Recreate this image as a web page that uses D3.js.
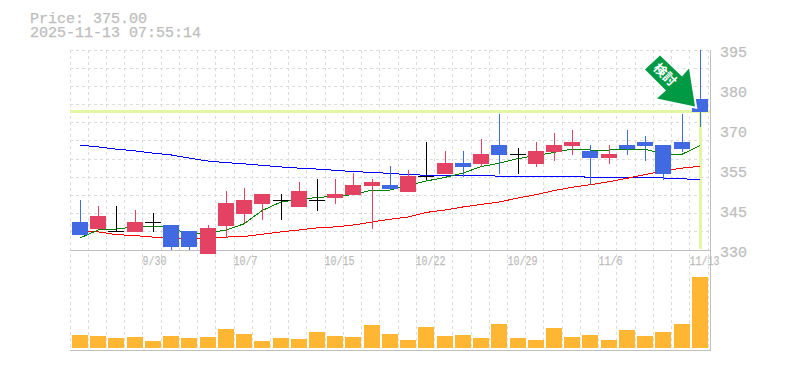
<!DOCTYPE html>
<html>
<head>
<meta charset="utf-8">
<script src="https://cdn.jsdelivr.net/npm/d3@7"></script>
<style>
  html, body { margin: 0; padding: 0; background: #fff; }
  svg { display: block; }
  text { font-family: "Liberation Mono", monospace; fill: #bdbdbd; stroke: #bdbdbd; stroke-width: 0.25; }
</style>
</head>
<body>
<svg id="chart" width="785" height="370"></svg>
<script>
const priceText = "Price: 375.00";
const stampText = "2025-11-13 07:55:14";
const lastPrice = 375;

const dates = ["9/24","9/25","9/26","9/29","9/30","10/1","10/2","10/3","10/6","10/7","10/8","10/9","10/10","10/14","10/15","10/16","10/17","10/20","10/21","10/22","10/23","10/24","10/27","10/28","10/29","10/30","10/31","11/4","11/5","11/6","11/7","11/10","11/11","11/12","11/13"];
const dateLabels = ["9/30","10/7","10/15","10/22","10/29","11/6","11/13"];

const yTickValues = [395, 382, 369, 356, 343, 330];
const yTickLabels = ["395", "380", "370", "355", "345", "330"];

const opens  = [339.1,336.8,336.2,335.9,339.1,338.1,336.2,328.7,337.8,341.7,345.0,346.2,344.0,346.2,346.9,347.9,350.8,351.1,348.9,354.0,354.7,358.3,358.0,364.1,361.2,358.0,361.9,363.8,362.2,359.9,364.1,365.1,364.1,365.1,379.0];
const closes = [334.9,341.1,336.2,339.1,339.1,331.0,331.0,337.2,345.3,346.2,348.2,346.2,349.2,346.2,348.2,351.1,352.1,349.8,354.0,354.0,358.3,357.0,361.2,360.9,361.2,362.2,364.1,365.1,359.9,361.2,362.8,363.8,354.7,362.8,375.0];
const highs  = [346.2,344.3,344.3,343.0,342.0,338.1,336.2,338.1,349.2,350.1,348.2,348.2,352.1,353.1,353.1,355.0,353.1,357.3,356.0,365.1,362.2,362.2,366.0,374.2,363.1,365.1,368.0,369.0,364.1,364.1,369.0,367.0,364.1,374.2,395.0];
const lows   = [334.9,336.8,335.9,335.9,335.9,330.0,330.0,328.7,333.9,338.8,339.8,339.8,344.0,342.7,345.0,347.9,336.8,349.8,348.9,352.7,354.7,353.7,357.0,354.7,354.7,357.0,358.9,360.9,351.1,358.0,360.9,358.9,352.7,361.9,370.0];
const volumes = [13,12,10,11,7,12,10,11,19,14,7,10,9,16,12,11,23,14,8,21,12,13,10,24,10,8,20,11,13,8,18,12,16,24,71];

const lineBlue  = [364.1,363.5,362.8,362.2,361.5,360.9,359.9,358.9,358.4,358.0,357.5,357.0,356.6,356.3,355.9,355.5,355.2,354.9,354.5,354.3,354.2,354.2,354.2,354.0,354.0,354.0,354.0,354.0,353.6,353.6,353.6,353.6,353.4,353.1,353.0];
const lineGreen = [333.9,336.5,336.8,337.5,337.8,337.2,335.2,335.5,336.5,338.5,342.8,345.6,346.4,347.1,347.4,348.0,349.5,349.5,351.0,352.4,353.6,355.0,357.1,358.2,359.7,360.7,361.7,362.8,362.5,362.5,362.6,362.8,361.1,361.1,364.0];
const lineRed   = [336.2,335.9,335.0,334.7,334.2,333.9,333.6,333.7,334.2,334.4,335.1,335.9,336.5,337.2,337.5,338.1,339.1,340.0,340.7,342.2,343.0,344.0,344.8,345.6,346.9,348.0,349.3,350.4,351.2,352.2,353.3,354.5,355.7,356.6,357.2];

const svg = d3.select("#chart");
const plotLeft = 71, plotRight = 709, plotTop = 50, priceBottom = 250, volBottom = 348, panelBottom = 350;
const gridColor = "#dcdcdc", axisColor = "#c0c0c0";

const x = d3.scaleBand().domain(dates).range([plotLeft, plotRight]);
const cx = d => Math.round(x(d) + x.bandwidth() / 2 - 0.1);
const y = d3.scaleLinear().domain([330, 395]).range([priceBottom, plotTop]);
const yVol = d3.scaleLinear().domain([0, d3.max(volumes)]).range([volBottom, 277]);

const candles = dates.map((d, i) => ({ d, open: opens[i], close: closes[i], high: highs[i], low: lows[i], vol: volumes[i] }));

// grid
const gridG = svg.append("g").attr("shape-rendering", "crispEdges")
  .attr("stroke", gridColor).attr("stroke-dasharray", "3 3");
gridG.selectAll("line.v").data(d3.range(dates.length + 1)).join("line")
  .attr("class", "v")
  .attr("x1", i => plotLeft + i * x.step() - 1).attr("x2", i => plotLeft + i * x.step() - 1)
  .attr("y1", plotTop).attr("y2", panelBottom);
gridG.selectAll("line.h").data(d3.range(11)).join("line")
  .attr("class", "h")
  .attr("x1", plotLeft - 1).attr("x2", plotRight)
  .attr("y1", i => y(395 - i * 65 / 11)).attr("y2", i => y(395 - i * 65 / 11));

// volume
svg.append("g").attr("shape-rendering", "crispEdges").selectAll("rect").data(candles).join("rect")
  .attr("x", d => cx(d.d) - 8).attr("width", 16)
  .attr("y", d => yVol(d.vol)).attr("height", d => volBottom - yVol(d.vol))
  .attr("fill", "#ffb733");

// axis frame
const frameG = svg.append("g").attr("shape-rendering", "crispEdges").attr("stroke", axisColor);
frameG.append("line").attr("x1", plotLeft - 1).attr("x2", plotRight + 2).attr("y1", priceBottom).attr("y2", priceBottom);
frameG.append("line").attr("x1", plotLeft - 1).attr("x2", plotRight + 2).attr("y1", panelBottom).attr("y2", panelBottom);
frameG.append("line").attr("x1", plotRight + 1).attr("x2", plotRight + 1).attr("y1", plotTop).attr("y2", panelBottom + 1);

// last price marker
const marker = svg.append("g").attr("shape-rendering", "crispEdges").attr("stroke", "#e3f6a6").attr("stroke-width", 3);
marker.append("line").attr("x1", plotLeft - 1).attr("x2", plotRight + 1).attr("y1", y(lastPrice)).attr("y2", y(lastPrice));
marker.append("line").attr("x1", cx(dates[34]) + 0.5).attr("x2", cx(dates[34]) + 0.5).attr("y1", y(lastPrice)).attr("y2", priceBottom - 1);

// moving averages
const line = d3.line().x((v, i) => cx(dates[i])).y(v => y(v));
[[lineBlue, "#0000ff"], [lineRed, "#ff0000"], [lineGreen, "#008000"]].forEach(([vals, color]) => {
  svg.append("path").datum(vals).attr("d", line)
    .attr("fill", "none").attr("stroke", color).attr("stroke-width", 1)
    .attr("shape-rendering", "crispEdges");
});

// candles
const candleColor = d => d.close > d.open ? "#e34262" : d.close < d.open ? "#4169e1" : "#000";
const candleG = svg.append("g").attr("shape-rendering", "crispEdges");
candleG.selectAll("rect.wick").data(candles).join("rect")
  .attr("class", "wick")
  .attr("x", d => cx(d.d)).attr("width", 1)
  .attr("y", d => y(d.high)).attr("height", d => y(d.low) - y(d.high))
  .attr("fill", candleColor);
candleG.selectAll("rect.body").data(candles).join("rect")
  .attr("class", "body")
  .attr("x", d => cx(d.d) - 8).attr("width", 16)
  .attr("y", d => y(Math.max(d.open, d.close)))
  .attr("height", d => Math.max(1, Math.abs(y(d.open) - y(d.close))))
  .attr("fill", candleColor);

// arrow badge, offsets measured from its tip
const tipX = cx(dates[34]) - 5, tipY = y(lastPrice) - 5;
const arrowPts = [[0,0],[-6,-38],[-13,-30],[-35,-51],[-50,-37],[-29,-16],[-38,-8]];
const arrowPath = d3.line()(arrowPts.map(p => [tipX + p[0], tipY + p[1]])) + "Z";
svg.append("path").attr("d", arrowPath).attr("fill", "#fff").attr("stroke", "#fff").attr("stroke-width", 4);
svg.append("path").attr("d", arrowPath).attr("fill", "#009944");
svg.append("text").attr("transform", `translate(${tipX - 30},${tipY - 32}) rotate(45)`)
  .attr("text-anchor", "middle").attr("dy", "0.36em")
  .style("font-family", '"Noto Sans CJK JP"').style("font-size", "13px").style("font-weight", 700)
  .style("fill", "#fff").style("stroke", "none")
  .text("検討");

// y labels
svg.append("g").selectAll("text").data(yTickValues).join("text")
  .attr("x", 720).attr("y", d => y(d) + 7)
  .style("font-size", "15px")
  .text((d, i) => yTickLabels[i]);

// x labels
svg.append("g").selectAll("text").data(dateLabels).join("text")
  .attr("x", d => cx(d) - 10.5).attr("y", 265)
  .attr("textLength", d => d.length * 6).attr("lengthAdjust", "spacingAndGlyphs")
  .style("font-size", "13px")
  .text(d => d);

// header
svg.append("text").attr("x", 30).attr("y", 23).style("font-size", "15px").text(priceText);
svg.append("text").attr("x", 30).attr("y", 37).style("font-size", "15px").text(stampText);
</script>
</body>
</html>
